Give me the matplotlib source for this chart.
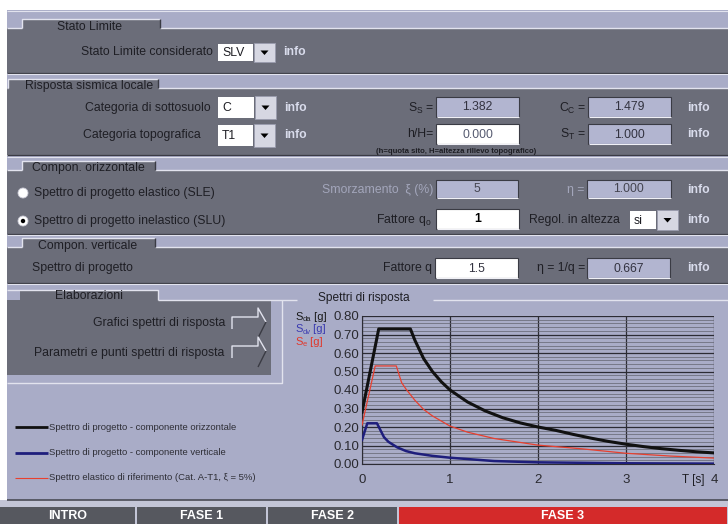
"""
Spettri di risposta - ricostruzione della schermata (fase 3)
"""
import numpy as np
import matplotlib.pyplot as plt
from matplotlib.patches import Rectangle, Circle, Polygon

plt.rcParams['font.family'] = ['Liberation Sans', 'DejaVu Sans']
plt.rcParams['mathtext.fontset'] = 'custom'
plt.rcParams['mathtext.rm'] = 'Liberation Sans'
plt.rcParams['mathtext.it'] = 'Liberation Sans:italic'

# Spettro di progetto - componente orizzontale (nero)
t_oriz = [0.0, 0.19, 0.55, 0.6, 0.7, 0.8, 0.9, 1.0, 1.2, 1.4, 1.6, 1.8, 2.0,
          2.2, 2.4, 2.6, 2.8, 3.0, 3.2, 3.4, 3.6, 3.8, 4.0]
sd_oriz = [0.28, 0.73, 0.73, 0.67, 0.57, 0.50, 0.445, 0.40, 0.335, 0.287,
           0.25, 0.222, 0.20, 0.182, 0.16, 0.14, 0.122, 0.107, 0.094, 0.083,
           0.074, 0.066, 0.060]

# Spettro di progetto - componente verticale (blu)
t_vert = [0.0, 0.06, 0.17, 0.25, 0.3, 0.4, 0.5, 0.6, 0.8, 1.0, 1.5, 2.0,
          3.0, 4.0]
sd_vert = [0.13, 0.22, 0.22, 0.145, 0.12, 0.09, 0.07, 0.058, 0.044, 0.034,
           0.016, 0.009, 0.004, 0.002]

# Spettro elastico di riferimento (rosso)
t_el = [0.0, 0.15, 0.39, 0.45, 0.5, 0.6, 0.7, 0.8, 1.0, 1.2, 1.5, 2.0, 2.5,
        3.0, 3.5, 4.0]
se_el = [0.21, 0.53, 0.53, 0.44, 0.405, 0.345, 0.295, 0.26, 0.205, 0.172,
         0.138, 0.102, 0.082, 0.058, 0.043, 0.032]

y_ticks = [0.0, 0.1, 0.2, 0.3, 0.4, 0.5, 0.6, 0.7, 0.8]
x_ticks = [0, 1, 2, 3, 4]

# Valori dei campi
val_stato = 'SLV'
val_cat_suolo = 'C'
val_cat_topo = 'T1'
val_ss, val_cc, val_hH, val_st = '1.382', '1.479', '0.000', '1.000'
val_xi, val_eta, val_q0, val_regol = '5', '1.000', '1', 'si'
val_q_vert, val_eta_vert = '1.5', '0.667'

legend_labels = ['Spettro di progetto - componente orizzontale',
                 'Spettro di progetto - componente verticale',
                 'Spettro elastico di riferimento (Cat. A-T1, ξ = 5%)']
buttons = ['INTRO', 'FASE 1', 'FASE 2', 'FASE 3']

DARK = '#6b6d79'
LIGHT = '#a9acc7'
EDGE_LIGHT = '#e2e3ee'
EDGE_DARK = '#3a3b44'
INFO = '#d9dcec'
TXT = '#1e1e24'
BOX_BLUE = '#b2b5d0'
FS = 8.8

fig = plt.figure(figsize=(7.28, 5.24), dpi=100, facecolor='white')
ui = fig.add_axes([0, 0, 1, 1])
ui.set_xlim(0, 728)
ui.set_ylim(524, 0)
ui.axis('off')
renderer = fig.canvas.get_renderer()


def rect(x0, y0, x1, y1, fc, ec='none', lw=0.0, z=1):
    ui.add_patch(Rectangle((x0, y0), x1 - x0, y1 - y0, facecolor=fc,
                           edgecolor=ec, linewidth=lw, zorder=z))


def line(xs, ys, color, lw=1.0, z=3):
    ui.plot(xs, ys, color=color, lw=lw, zorder=z, solid_capstyle='butt')


def section(y_band, y_top, y_bot, tab_x0, tab_x1, title, title_x):
    """Bande claire + panneau sombre avec onglet."""
    rect(7, y_band, 728, y_top, LIGHT)
    rect(7, y_top, 728, y_bot, DARK)
    line([7, 728], [y_band + 0.5, y_band + 0.5], EDGE_LIGHT, 0.8)
    line([tab_x1, 728], [y_top, y_top], EDGE_LIGHT, 1.0)
    line([7, tab_x0], [y_top, y_top], EDGE_LIGHT, 1.0)
    line([7, 728], [y_bot, y_bot], EDGE_DARK, 0.9)
    tab_top = y_top - 9
    rect(tab_x0, tab_top, tab_x1, y_top + 1, DARK, z=2)
    line([tab_x0, tab_x0, tab_x1], [y_top, tab_top, tab_top], EDGE_LIGHT, 1.0)
    line([tab_x1, tab_x1], [tab_top, y_top], EDGE_DARK, 1.0)
    ui.text(title_x, tab_top + 7.5, title, fontsize=FS, color=TXT,
            va='center', ha='left', zorder=4)


def box(x0, y0, x1, y1, value, fc, color='#333340', bold=False):
    rect(x0, y0, x1, y1, fc, ec=EDGE_DARK, lw=0.8, z=2)
    line([x0 + 1, x1], [y1 - 0.5, y1 - 0.5], '#f0f0f6', 0.8)
    ui.text((x0 + x1) / 2, (y0 + y1) / 2 + 0.5, value, fontsize=FS,
            color=color, ha='center', va='center', zorder=4,
            fontweight='bold' if bold else 'normal')


def dropdown(x0, y0, x1, y1, value):
    rect(x0, y0, x1, y1, 'white', z=2)
    ui.text(x0 + 4, (y0 + y1) / 2 + 0.5, value, fontsize=FS, color=TXT,
            ha='left', va='center', zorder=4)
    bx0, bx1 = x1 + 1, x1 + 22
    rect(bx0, y0 - 1, bx1, y1 + 1, '#d6d7e2', ec='#9a9cae', lw=0.6, z=2)
    cx, cy = (bx0 + bx1) / 2, (y0 + y1) / 2
    ui.add_patch(Polygon([[cx - 4, cy - 2], [cx + 4, cy - 2], [cx, cy + 2.5]],
                         closed=True, facecolor='black', zorder=4))


def label(x, y, s, ha='right', color=TXT, size=FS):
    ui.text(x, y, s, fontsize=size, color=color, ha=ha, va='center', zorder=4)


def info(y, x=687):
    ui.text(x, y, 'info', fontsize=FS, color=INFO, ha='left', va='center',
            fontweight='bold', zorder=4)


def sub_label(x, y, main, sub, tail, color, size=8.0):
    """Texte avec indice, compose morceau par morceau."""
    t = ui.text(x, y, main, fontsize=size, color=color, va='center', zorder=4)
    x += t.get_window_extent(renderer).width
    t = ui.text(x, y + 2.5, sub, fontsize=size * 0.68, color=color,
                va='center', zorder=4)
    x += t.get_window_extent(renderer).width
    ui.text(x, y, tail, fontsize=size, color=color, va='center', zorder=4)


# --- Stato Limite ---
section(10, 28, 73, 22, 160, 'Stato Limite', 57)
label(213, 52, 'Stato Limite considerato')
dropdown(218, 44, 253, 61, val_stato)
info(52, 283)

# --- Risposta sismica locale ---
section(73, 88, 155, 8, 158, 'Risposta sismica locale', 25)
label(211, 108, 'Categoria di sottosuolo')
dropdown(218, 97, 254, 118, val_cat_suolo)
info(108, 284)
label(83, 135, 'Categoria topografica', ha='left')
dropdown(218, 125, 253, 146, val_cat_topo)
info(135, 284)
label(434, 108, r'S$_\mathrm{S}$ =')
box(436, 97, 519, 117, val_ss, BOX_BLUE)
label(586, 108, r'C$_\mathrm{C}$ =')
box(588, 97, 671, 117, val_cc, BOX_BLUE)
info(108)
label(433, 134, 'h/H=')
box(436, 124, 519, 144, val_hH, 'white', color='#555a70')
label(586, 134, r'S$_\mathrm{T}$ =')
box(588, 124, 671, 144, val_st, BOX_BLUE)
info(134)
ui.text(376, 151.5, '(h=quota sito, H=altezza rilievo topografico)',
        fontsize=5.6, color=TXT, fontweight='bold', va='center', zorder=4)

# --- Compon. orizzontale ---
section(156, 170, 234, 22, 155, 'Compon. orizzontale', 32)
ui.add_patch(Circle((23, 193), 5, facecolor='white', edgecolor='#c8c8d4',
                    lw=0.6, zorder=4))
label(34, 193, 'Spettro di progetto elastico (SLE)', ha='left')
ui.add_patch(Circle((23, 221), 5, facecolor='white', edgecolor='#c8c8d4',
                    lw=0.6, zorder=4))
ui.add_patch(Circle((23, 221), 2.2, facecolor='black', zorder=5))
label(34, 221, 'Spettro di progetto inelastico (SLU)', ha='left')
label(433, 190, 'Smorzamento  ξ (%)', color='#a3a6bb')
box(436, 180, 518, 198, val_xi, BOX_BLUE, color='#444450')
label(584, 190, 'η =', color='#a3a6bb')
box(587, 180, 671, 198, val_eta, BOX_BLUE, color='#444450')
info(190)
label(432, 220, r'Fattore q$_\mathrm{o}$')
box(436, 209, 519, 229, val_q0, 'white', color='black', bold=True)
label(529, 220, 'Regol. in altezza', ha='left')
dropdown(630, 211, 656, 229, val_regol)
info(220)

# --- Compon. verticale ---
section(234, 247, 283, 22, 155, 'Compon. verticale', 38)
label(32, 268, 'Spettro di progetto', ha='left')
label(432, 268, 'Fattore q')
box(435, 258, 518, 278, val_q_vert, 'white', color='#333340')
label(585, 268, 'η = 1/q =')
box(587, 258, 670, 278, val_eta_vert, BOX_BLUE)
info(268)

# --- Zona inferiore: elaborazioni e grafico ---
rect(7, 283, 728, 500, LIGHT)
line([7, 728], [283.5, 283.5], EDGE_LIGHT, 0.8)
rect(7, 300, 271, 375, DARK, z=2)
rect(20, 290, 158, 301, DARK, z=2)
line([7, 158, 158], [289.5, 289.5, 300], EDGE_LIGHT, 1.0)
line([158, 297], [300, 300], EDGE_LIGHT, 1.0)
line([433, 728], [300, 300], EDGE_LIGHT, 1.0)
line([282, 282, 7], [300, 383, 383], EDGE_LIGHT, 1.0)
ui.text(55, 296, 'Elaborazioni', fontsize=FS, color=TXT, va='center',
        zorder=4)
label(225, 323, 'Grafici spettri di risposta')
label(224, 353, 'Parametri e punti spettri di risposta')
for dy in (0, 29):
    line([232, 232, 258, 258, 266], [329 + dy, 317 + dy, 317 + dy,
                                     308 + dy, 322 + dy], EDGE_LIGHT, 1.0)
    line([266, 258], [322 + dy, 338 + dy], EDGE_DARK, 1.0)
ui.text(318, 298, 'Spettri di risposta', fontsize=8.6, color=TXT,
        va='center', zorder=4)

sub_label(295, 317, 'S', 'da', ' [g]', '#1a1a1a')
sub_label(295, 329.5, 'S', 'dv', ' [g]', '#3a3ab0')
sub_label(295, 342, 'S', 'e', ' [g]', '#e0382c')

legend_styles = [('#111111', 2.0), ('#1e1e7c', 2.0), ('#e8402f', 0.8)]
for i, (txt, (col, lw)) in enumerate(zip(legend_labels, legend_styles)):
    y = 427 + 25.5 * i
    line([15, 48], [y, y], col, lw)
    ui.text(49, y, txt, fontsize=6.8, color='#2e2e36', va='center', zorder=4)

ui.text(682, 480, 'T [s]', fontsize=8.5, color=TXT, va='center', zorder=4)

# --- Barra dei pulsanti ---
line([7, 728], [499.5, 499.5], '#4a4b55', 1.2)
rect(0, 500, 728, 524, '#c3c5d6')
btn_x = [0, 136, 267, 398, 728]
btn_col = ['#56585f', '#56585f', '#56585f', '#d42a2a']
for i, name in enumerate(buttons):
    rect(btn_x[i] + (1 if i else 0), 507, btn_x[i + 1] - 1, 524, btn_col[i])
    ui.text((btn_x[i] + btn_x[i + 1]) / 2, 516, name, fontsize=9,
            color='white', fontweight='bold', ha='center', va='center',
            zorder=4)

# --- Grafico ---
ax = fig.add_axes([362 / 728, (524 - 464) / 524, (714 - 362) / 728,
                   (464 - 316) / 524], zorder=5)
ax.patch.set_alpha(0)
ax.set_xlim(0, 4)
ax.set_ylim(0, 0.8)
ax.set_yticks(y_ticks)
ax.set_yticklabels([f'{v:.2f}' for v in y_ticks])
ax.set_yticks(np.arange(0, 0.8, 0.02), minor=True)
ax.set_xticks(x_ticks)
ax.grid(which='major', color='#2c2c34', lw=0.9)
ax.grid(which='minor', axis='y', color='#62646f', lw=0.5)
ax.set_axisbelow(True)
ax.tick_params(which='both', length=0, colors='#2a2a30', labelsize=9.5)
ax.tick_params(axis='y', pad=2)
ax.tick_params(axis='x', pad=7)
for side in ('top', 'right'):
    ax.spines[side].set_visible(False)
ax.spines['left'].set_color('#2c2c34')
ax.spines['bottom'].set_color('#2c2c34')

ax.plot(t_oriz, sd_oriz, color='#111111', lw=2.2, zorder=3)
ax.plot(t_el, se_el, color='#e8402f', lw=0.9, zorder=4)
ax.plot(t_vert, sd_vert, color='#1e1e7c', lw=1.8, zorder=3)

plt.savefig('out.png', dpi=100, facecolor=fig.get_facecolor())
